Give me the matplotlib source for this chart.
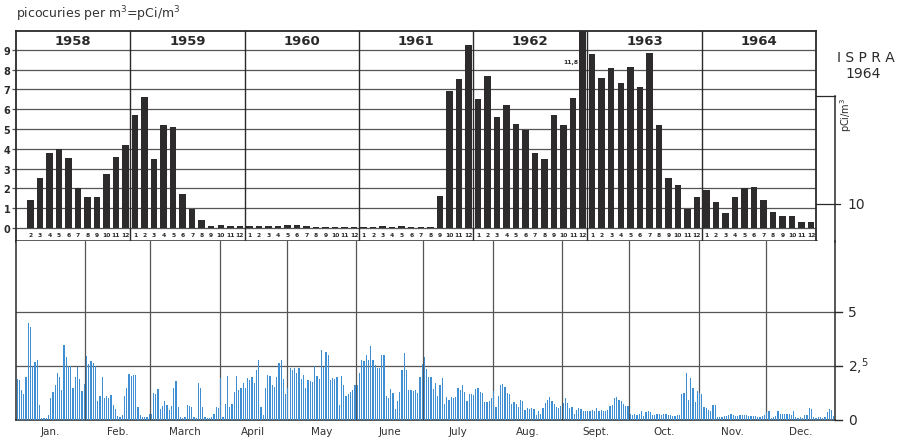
import matplotlib.pyplot as plt
from matplotlib.lines import Line2D

# monthly means (pCi/m3), Ispra, Feb 1958 - Dec 1964
y1958 = [1.4, 2.5, 3.8, 4.0, 3.55, 2.0, 1.55, 1.55, 2.7, 3.6, 4.2]  # feb-dec
y1959 = [5.7, 6.6, 3.5, 5.2, 5.1, 1.7, 0.95, 0.4, 0.08, 0.15, 0.12, 0.12]
y1960 = [0.12, 0.12, 0.12, 0.12, 0.17, 0.17, 0.12, 0.06, 0.05, 0.05, 0.05, 0.05]
y1961 = [0.06, 0.06, 0.1, 0.06, 0.1, 0.05, 0.05, 0.05, 1.6, 6.9, 7.5, 9.25]
y1962 = [6.5, 7.7, 5.6, 6.2, 5.25, 4.95, 3.8, 3.5, 5.7, 5.2, 6.55, 11.8]
y1963 = [8.8, 7.6, 8.1, 7.3, 8.15, 7.1, 8.85, 5.2, 2.5, 2.15, 0.95, 1.55]
y1964 = [1.9, 1.3, 0.75, 1.55, 2.0, 2.05, 1.4, 0.8, 0.62, 0.6, 0.3, 0.3]
years = ["1958", "1959", "1960", "1961", "1962", "1963", "1964"]

# daily values 1964
jan = [1.9, 1.85, 1.4, 1.2, 2.0, 4.5, 4.3, 2.5, 2.7, 2.8, 0.7, 0.1, 0.1, 0.1, 0.25, 1.0,
       1.3, 1.6, 2.2, 2.0, 1.4, 3.5, 2.9, 2.5, 2.5, 1.5, 2.0, 2.45, 1.9, 1.35, 1.65]
feb = [2.95, 2.6, 2.75, 2.65, 2.5, 0.9, 1.1, 2.0, 1.0, 1.1, 1.0, 1.15, 0.7, 0.5, 0.2,
       0.12, 0.25, 1.1, 1.5, 2.15, 2.05, 2.1, 2.1, 0.6, 0.25, 0.12, 0.12, 0.15, 0.3]
mar = [0.3, 1.25, 1.2, 1.45, 0.5, 0.65, 0.9, 0.7, 0.45, 0.65, 1.5, 1.8, 0.6, 0.15, 0.1,
       0.12, 0.7, 0.65, 0.6, 0.12, 0.1, 1.7, 1.5, 0.6, 0.12, 0.1, 0.1, 0.15, 0.3, 0.6, 0.55]
apr = [1.95, 0.15, 0.75, 2.05, 0.6, 0.75, 1.3, 2.05, 1.4, 1.5, 1.7, 1.5, 1.95, 1.85, 2.0,
       1.7, 2.3, 2.8, 0.6, 0.25, 1.5, 2.1, 2.05, 1.6, 1.55, 2.0, 2.65, 2.8, 1.9, 1.2]
may = [1.5, 2.4, 2.3, 2.4, 2.2, 2.4, 1.9, 2.1, 1.5, 1.85, 1.8, 1.75, 2.5, 2.05, 1.9, 3.25,
       2.45, 3.15, 3.0, 1.85, 1.95, 1.9, 2.0, 0.7, 2.05, 1.6, 1.1, 1.2, 1.3, 1.4, 1.6]
jun = [1.6, 2.2, 2.8, 2.75, 3.0, 2.8, 3.45, 2.8, 2.55, 2.4, 2.4, 3.0, 3.0, 1.1, 1.0,
       1.45, 1.25, 0.5, 0.9, 1.3, 2.3, 3.1, 2.3, 1.4, 1.4, 1.35, 1.4, 1.25, 2.0, 2.6]
jul = [2.9, 2.35, 2.0, 2.0, 1.45, 1.7, 1.1, 1.6, 1.95, 0.75, 1.05, 0.95, 1.05, 1.0, 1.05,
       1.5, 1.4, 1.6, 1.3, 0.9, 1.2, 1.2, 1.15, 1.45, 1.5, 1.3, 1.25, 0.85, 0.85, 0.9, 1.0]
aug = [1.35, 0.6, 1.1, 1.6, 1.65, 1.55, 1.25, 1.2, 0.75, 0.85, 0.75, 0.6, 0.95, 0.9, 0.45,
       0.55, 0.5, 0.55, 0.5, 0.25, 0.4, 0.3, 0.55, 0.8, 0.95, 1.05, 0.9, 0.75, 0.6, 0.55, 0.65]
sep = [0.8, 1.0, 0.8, 0.55, 0.6, 0.3, 0.45, 0.55, 0.5, 0.4, 0.4, 0.4, 0.4, 0.45, 0.4,
       0.55, 0.4, 0.45, 0.4, 0.4, 0.45, 0.65, 0.7, 1.0, 1.05, 0.95, 0.9, 0.75, 0.65, 0.65]
oct = [0.3, 0.25, 0.3, 0.25, 0.3, 0.4, 0.2, 0.35, 0.4, 0.35, 0.25, 0.25, 0.3, 0.3, 0.25,
       0.3, 0.3, 0.25, 0.25, 0.2, 0.2, 0.25, 0.25, 1.2, 1.25, 2.2, 0.95, 1.95, 1.5, 0.85, 1.35]
nov = [1.25, 1.2, 0.6, 0.55, 0.45, 0.4, 0.7, 0.7, 0.12, 0.12, 0.15, 0.17, 0.2, 0.25, 0.3,
       0.25, 0.2, 0.2, 0.22, 0.25, 0.22, 0.25, 0.2, 0.2, 0.18, 0.18, 0.15, 0.12, 0.2, 0.25]
dec = [0.35, 0.4, 0.1, 0.15, 0.2, 0.4, 0.3, 0.3, 0.28, 0.28, 0.28, 0.25, 0.4, 0.12, 0.08,
       0.12, 0.1, 0.22, 0.25, 0.57, 0.5, 0.12, 0.08, 0.12, 0.12, 0.08, 0.12, 0.35, 0.5, 0.45, 0.2]
daily = [jan, feb, mar, apr, may, jun, jul, aug, sep, oct, nov, dec]
month_names = ["Jan.", "Feb.", "March", "April", "May", "June",
               "July", "Aug.", "Sept.", "Oct.", "Nov.", "Dec."]
month_len = [31, 29, 31, 30, 31, 30, 31, 31, 30, 31, 30, 31]

W, H = 901, 439
fig = plt.figure(figsize=(W / 100, H / 100), dpi=100)
fig.patch.set_facecolor("white")
ink = "#2a2a2a"
grid = "#555555"


def fx(px):
    return px / W


def fy(py):
    return 1 - py / H


# ---- top panel: monthly bars
ax = fig.add_axes([fx(16), fy(242), fx(816) - fx(16), fy(32) - fy(242)])
monthly = [0.0] + y1958 + y1959 + y1960 + y1961 + y1962 + y1963 + y1964
idx = list(range(1, len(monthly)))
ax.bar(idx, monthly[1:], width=0.68, color="#2d2b2b", zorder=3)
ax.set_xlim(-0.5, 83.5)
ax.set_ylim(-0.66, 9.95)
for v in range(10):
    ax.axhline(v, color=grid, lw=0.9, zorder=1)
for k in range(1, 7):
    ax.axvline(k * 12 - 0.5, color=ink, lw=1.0, zorder=4)
for k, yr in enumerate(years):
    ax.text(k * 12 + 5.5, 9.47, yr, ha="center", va="center", fontsize=9.5,
            color=ink, fontweight="bold")
for m in idx:
    ax.text(m, -0.33, str(m % 12 + 1), ha="center", va="center", fontsize=4.3,
            color=ink, fontweight="bold")
ax.text(58.55, 8.4, "11,8", ha="right", va="center", fontsize=4.3, color=ink,
        fontweight="bold")
ax.set_xticks([])
ax.set_yticks(range(10))
ax.set_yticklabels([str(v) for v in range(10)], fontsize=7, fontweight="bold", color=ink)
ax.tick_params(axis="y", length=3, width=0.9, pad=1, color=grid)
for s in ax.spines.values():
    s.set_color(ink)
    s.set_linewidth(1.3)
ax.spines["bottom"].set_linewidth(1.8)

# ---- bottom panel: daily bars 1964
bx = fig.add_axes([fx(16), fy(421), fx(835) - fx(16), fy(242) - fy(421)])
start = 0
for m in range(12):
    vals = daily[m]
    xs = [start + i + 0.5 for i in range(len(vals))]
    bx.bar(xs, vals, width=0.55, color="#3f8fd2", zorder=3)
    bx.text(start + month_len[m] / 2, -0.5, month_names[m], ha="center", va="center",
            fontsize=7.5, color="#333333")
    start += month_len[m]
    if m < 11:
        bx.axvline(start, color=grid, lw=0.9, zorder=1)
bx.set_xlim(0, 366)
bx.set_ylim(0, 8.3)
for v in (2.5, 5):
    bx.axhline(v, color=grid, lw=0.9, zorder=1)
bx.set_xticks([])
bx.set_yticks([])
bx.spines["top"].set_visible(False)
for s in ("left", "bottom", "right"):
    bx.spines[s].set_color(ink)
    bx.spines[s].set_linewidth(1.1)

# right-hand scale labels of the daily panel
for v, lab in [(5, "5"), (2.5, "2,$^5$"), (0, "0")]:
    bx.plot([366, 369], [v, v], color=ink, lw=1.0, clip_on=False)
    bx.text(372, v, lab, ha="left", va="center", fontsize=10, color=ink)

# bracket with the pCi/m3 scale
fig.add_artist(Line2D([fx(816), fx(835)], [fy(97), fy(97)], color=ink, lw=0.9))
fig.add_artist(Line2D([fx(816), fx(840)], [fy(205), fy(205)], color=ink, lw=0.9))
fig.add_artist(Line2D([fx(835), fx(835)], [fy(97), fy(243)], color=ink, lw=1.1))
fig.text(fx(846), fy(115), "pCi/m$^3$", rotation=90, ha="center", va="center",
         fontsize=7, color=ink)
fig.text(fx(847), fy(205), "10", ha="left", va="center", fontsize=10, color=ink)
fig.text(fx(866), fy(58), "I S P R A", ha="center", va="center", fontsize=10, color=ink)
fig.text(fx(863), fy(74), "1964", ha="center", va="center", fontsize=10, color=ink)

fig.text(fx(16), fy(14), "picocuries per m$^3$=pCi/m$^3$", ha="left", va="center",
         fontsize=9, color="#333333")

fig.savefig("out.png", dpi=100, facecolor="white")
